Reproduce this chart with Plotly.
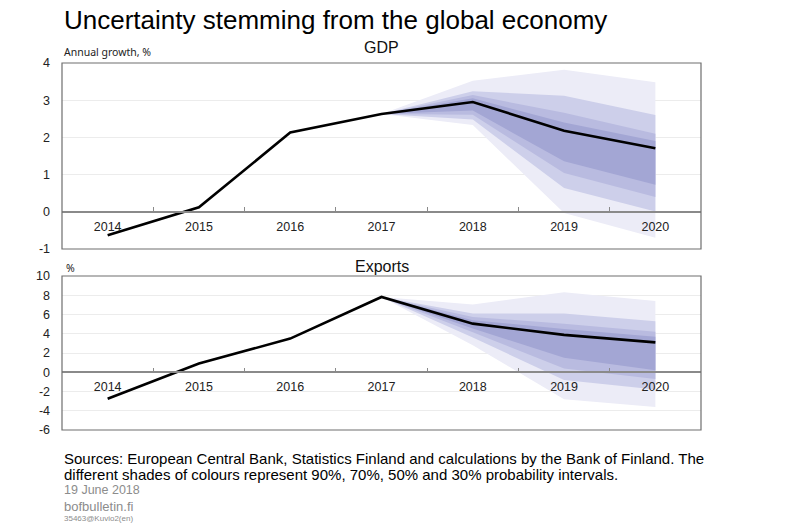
import plotly.graph_objects as go

# ---------------- data ----------------
years = ["2014", "2015", "2016", "2017", "2018", "2019", "2020"]
fan_years = ["2017", "2018", "2019", "2020"]

gdp = [-0.63, 0.12, 2.13, 2.63, 2.95, 2.18, 1.71]
# probability bands for GDP (upper, lower) per fan year
gdp_90_up = [2.63, 3.52, 3.82, 3.48]
gdp_90_lo = [2.63, 2.33, -0.03, -0.70]
gdp_70_up = [2.63, 3.24, 3.12, 2.60]
gdp_70_lo = [2.63, 2.48, 0.64, 0.01]
gdp_50_up = [2.63, 3.14, 2.66, 2.10]
gdp_50_lo = [2.63, 2.61, 1.04, 0.40]
gdp_30_up = [2.63, 3.05, 2.40, 1.90]
gdp_30_lo = [2.63, 2.72, 1.36, 0.73]

exports = [-2.75, 0.9, 3.5, 7.82, 5.05, 3.88, 3.1]
exp_90_up = [7.82, 7.05, 8.3, 7.4]
exp_90_lo = [7.82, 2.8, -2.8, -3.6]
exp_70_up = [7.82, 6.1, 6.1, 5.3]
exp_70_lo = [7.82, 3.6, -0.8, -1.8]
exp_50_up = [7.82, 5.75, 5.05, 4.2]
exp_50_lo = [7.82, 4.15, 0.4, -0.7]
exp_30_up = [7.82, 5.4, 4.5, 3.7]
exp_30_lo = [7.82, 4.55, 1.5, 0.2]

gdp_ticks = [-1, 0, 1, 2, 3, 4]
gdp_tick_labels = ["-1", "0", "1", "2", "3", "4"]
exp_ticks = [-6, -4, -2, 0, 2, 4, 6, 8, 10]
exp_tick_labels = ["-6", "-4", "-2", "0", "2", "4", "6", "8", "10"]

band_colors = ["#ececf7", "#cdcfea", "#b9bbe0", "#a3a6d4"]

# ---------------- layout helpers ----------------
W, H = 800, 523
ML, MR, MT, MB = 62, 99, 63, 93
plot_h = H - MT - MB


def py(ypix):
    return (H - MB - ypix) / plot_h


def px(xpix):
    return (xpix - ML) / (W - ML - MR)


top_dom = [py(249), 1.0]
bot_dom = [0.0, py(276)]

FONT = "Arial, Liberation Sans, sans-serif"

fig = go.Figure()


def add_fan(bands, xa, ya):
    for (up, lo), col in zip(bands, band_colors):
        fig.add_trace(go.Scatter(
            x=fan_years + fan_years[::-1], y=up + lo[::-1],
            fill="toself", fillcolor=col, mode="lines",
            line=dict(width=0, color=col), hoverinfo="skip",
            showlegend=False, xaxis=xa, yaxis=ya))


add_fan([(gdp_90_up, gdp_90_lo), (gdp_70_up, gdp_70_lo),
         (gdp_50_up, gdp_50_lo), (gdp_30_up, gdp_30_lo)], "x", "y")
fig.add_trace(go.Scatter(x=years, y=gdp, mode="lines",
                         line=dict(color="black", width=2.6),
                         showlegend=False, xaxis="x", yaxis="y"))

add_fan([(exp_90_up, exp_90_lo), (exp_70_up, exp_70_lo),
         (exp_50_up, exp_50_lo), (exp_30_up, exp_30_lo)], "x2", "y2")
fig.add_trace(go.Scatter(x=years, y=exports, mode="lines",
                         line=dict(color="black", width=2.6),
                         showlegend=False, xaxis="x2", yaxis="y2"))

# x-axis positioned at y = 0
gdp_zero = top_dom[0] + (0 - gdp_ticks[0]) / (gdp_ticks[-1] - gdp_ticks[0]) * (top_dom[1] - top_dom[0])
exp_zero = bot_dom[0] + (0 - exp_ticks[0]) / (exp_ticks[-1] - exp_ticks[0]) * (bot_dom[1] - bot_dom[0])

xcommon = dict(type="category", categoryorder="array", categoryarray=years,
               range=[-0.5, 6.5], showgrid=False, showline=True, linecolor="#8a8a8a",
               linewidth=1.5, ticks="inside", tickson="boundaries", ticklen=4,
               tickcolor="#8a8a8a", tickfont=dict(family=FONT, size=12.5, color="#222"),
               ticklabelstandoff=3, automargin=False,
               domain=[0, 1], anchor="free", fixedrange=True)

ycommon = dict(showgrid=True, gridcolor="#ececec", gridwidth=1, zeroline=False,
               showline=False, ticks="", ticklabelstandoff=11, automargin=False,
               tickfont=dict(family=FONT, size=12.5, color="#222"), fixedrange=True)

fig.update_layout(
    width=W, height=H,
    margin=dict(l=ML, r=MR, t=MT, b=MB, autoexpand=False),
    paper_bgcolor="white", plot_bgcolor="white",
    xaxis=dict(**xcommon, position=gdp_zero),
    yaxis=dict(**ycommon, domain=top_dom, range=[gdp_ticks[0], gdp_ticks[-1]],
               tickvals=gdp_ticks, ticktext=gdp_tick_labels),
    xaxis2=dict(**xcommon, position=exp_zero),
    yaxis2=dict(**ycommon, domain=bot_dom, range=[exp_ticks[0], exp_ticks[-1]],
                tickvals=exp_ticks, ticktext=exp_tick_labels),
    showlegend=False,
)

# frames
for xr, yr in [("x domain", "y domain"), ("x2 domain", "y2 domain")]:
    fig.add_shape(type="rect", xref=xr, yref=yr, x0=0, x1=1, y0=0, y1=1,
                  line=dict(color="#6e6e6e", width=1.2), layer="above")

ann = []
ann.append(dict(text="Uncertainty stemming from the global economy", x=px(62), y=py(20),
                xref="paper", yref="paper", xanchor="left", yanchor="middle",
                showarrow=False, font=dict(family=FONT, size=26, color="black")))
ann.append(dict(text="Annual growth, %", x=px(62), y=py(52), xref="paper", yref="paper",
                xanchor="left", yanchor="middle", showarrow=False,
                font=dict(family="Noto Sans, sans-serif", size=10.5, color="#222")))
ann.append(dict(text="GDP", x=0.5, y=py(47), xref="paper", yref="paper",
                xanchor="center", yanchor="middle", showarrow=False,
                font=dict(family=FONT, size=16, color="#111")))
ann.append(dict(text="Exports", x=0.5, y=py(266), xref="paper", yref="paper",
                xanchor="center", yanchor="middle", showarrow=False,
                font=dict(family=FONT, size=16, color="#111")))
ann.append(dict(text="%", x=px(64), y=py(268), xref="paper", yref="paper",
                xanchor="left", yanchor="middle", showarrow=False,
                font=dict(family="Noto Sans, sans-serif", size=10.5, color="#222")))
ann.append(dict(text="Sources: European Central Bank, Statistics Finland and calculations by the Bank of Finland. The",
                x=px(62), y=py(458), xref="paper", yref="paper", xanchor="left", yanchor="middle",
                showarrow=False, font=dict(family=FONT, size=15, color="black")))
ann.append(dict(text="different shades of colours represent 90%, 70%, 50% and 30% probability intervals.",
                x=px(62), y=py(474), xref="paper", yref="paper", xanchor="left", yanchor="middle",
                showarrow=False, font=dict(family=FONT, size=15, color="black")))
ann.append(dict(text="19 June 2018", x=px(62), y=py(490), xref="paper", yref="paper",
                xanchor="left", yanchor="middle", showarrow=False,
                font=dict(family=FONT, size=12.5, color="#8c8c8c")))
ann.append(dict(text="bofbulletin.fi", x=px(62), y=py(506), xref="paper", yref="paper",
                xanchor="left", yanchor="middle", showarrow=False,
                font=dict(family=FONT, size=13, color="#8c8c8c")))
ann.append(dict(text="35463@Kuvio2(en)", x=px(62), y=py(518), xref="paper", yref="paper",
                xanchor="left", yanchor="middle", showarrow=False,
                font=dict(family=FONT, size=8, color="#8c8c8c")))
fig.update_layout(annotations=ann)

fig.write_html("out.html", config={"displayModeBar": False},
               post_script="document.body.style.margin='0';document.body.style.overflow='hidden';")
